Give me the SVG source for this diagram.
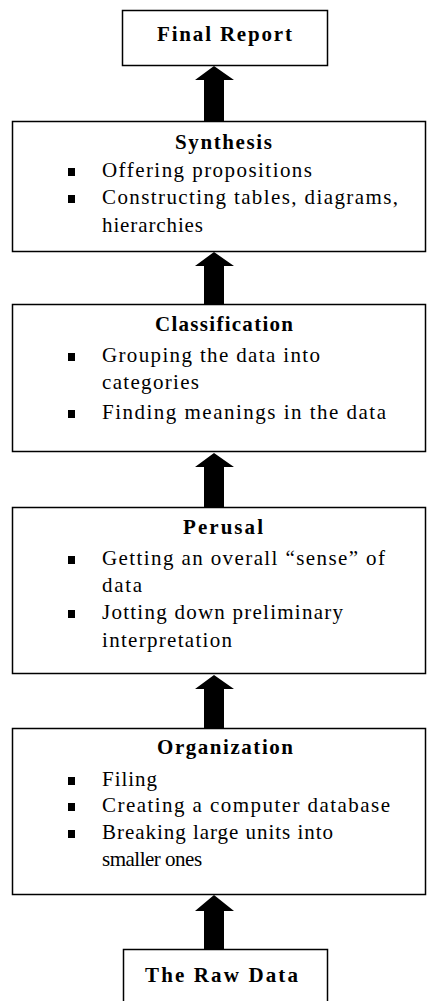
<svg xmlns="http://www.w3.org/2000/svg" width="427" height="1001" viewBox="0 0 427 1001">
<style>
.box{fill:#fff;stroke:#000;stroke-width:1.5}
.t{font-family:"Liberation Serif","Times New Roman",serif;font-size:21px;fill:#000}
.h{font-family:"Liberation Serif","Times New Roman",serif;font-size:21px;font-weight:bold;fill:#000;text-anchor:middle}
.b{fill:#000}
.arrow{fill:#000}
</style>
<rect width="427" height="1001" fill="#fff"/>
<g id="connectors">
<polygon class="arrow" points="214,66 234,80 224,80 224,121 204,121 204,80 195,80"/>
<polygon class="arrow" points="214,252 234,266 224,266 224,304 204,304 204,266 195,266"/>
<polygon class="arrow" points="214,453 234,467 224,467 224,507 204,507 204,467 195,467"/>
<polygon class="arrow" points="214,675 234,689 224,689 224,728 204,728 204,689 195,689"/>
<polygon class="arrow" points="214,895 234,911 224,911 224,949 204,949 204,911 195,911"/>
</g>
<g id="final-report">
<rect class="box" x="122.5" y="10.5" width="205" height="55"/>
<text class="h" x="224.5" y="41" textLength="135" lengthAdjust="spacing">Final Report</text>
</g>
<g id="synthesis">
<rect class="box" x="12.5" y="121.5" width="413" height="130"/>
<text class="h" x="223.5" y="149" textLength="97" lengthAdjust="spacing">Synthesis</text>
<rect class="b" x="68" y="168" width="7" height="8"/>
<text class="t" x="102" y="177" textLength="210" lengthAdjust="spacing">Offering propositions</text>
<rect class="b" x="68" y="195" width="7" height="8"/>
<text class="t" x="102" y="204" textLength="296" lengthAdjust="spacing">Constructing tables, diagrams,</text>
<text class="t" x="102" y="232" textLength="101" lengthAdjust="spacing">hierarchies</text>
</g>
<g id="classification">
<rect class="box" x="12.5" y="304.5" width="413" height="147"/>
<text class="h" x="224" y="331" textLength="138" lengthAdjust="spacing">Classification</text>
<rect class="b" x="68" y="353" width="7" height="8"/>
<text class="t" x="102" y="362" textLength="218" lengthAdjust="spacing">Grouping the data into</text>
<text class="t" x="102" y="389" textLength="97" lengthAdjust="spacing">categories</text>
<rect class="b" x="68" y="410" width="7" height="8"/>
<text class="t" x="102" y="419" textLength="284" lengthAdjust="spacing">Finding meanings in the data</text>
</g>
<g id="perusal">
<rect class="box" x="12.5" y="507.5" width="413" height="166"/>
<text class="h" x="223" y="534" textLength="80" lengthAdjust="spacing">Perusal</text>
<rect class="b" x="68" y="556" width="7" height="8"/>
<text class="t" x="102" y="565" textLength="283" lengthAdjust="spacing">Getting an overall “sense” of</text>
<text class="t" x="102" y="592" textLength="40" lengthAdjust="spacing">data</text>
<rect class="b" x="68" y="610" width="7" height="8"/>
<text class="t" x="102" y="619" textLength="241" lengthAdjust="spacing">Jotting down preliminary</text>
<text class="t" x="102" y="647" textLength="130" lengthAdjust="spacing">interpretation</text>
</g>
<g id="organization">
<rect class="box" x="12.5" y="728.5" width="413" height="166"/>
<text class="h" x="225" y="754" textLength="136" lengthAdjust="spacing">Organization</text>
<rect class="b" x="68" y="777" width="7" height="8"/>
<text class="t" x="102" y="786" textLength="55" lengthAdjust="spacing">Filing</text>
<rect class="b" x="68" y="803" width="7" height="8"/>
<text class="t" x="102" y="812" textLength="288" lengthAdjust="spacing">Creating a computer database</text>
<rect class="b" x="68" y="830" width="7" height="8"/>
<text class="t" x="102" y="839" textLength="231" lengthAdjust="spacing">Breaking large units into</text>
<text class="t" x="102" y="866" letter-spacing="-0.5">smaller ones</text>
</g>
<g id="raw-data">
<rect class="box" x="123.5" y="949.5" width="204" height="70"/>
<text class="h" x="221.5" y="982" textLength="153" lengthAdjust="spacing">The Raw Data</text>
</g>
</svg>
